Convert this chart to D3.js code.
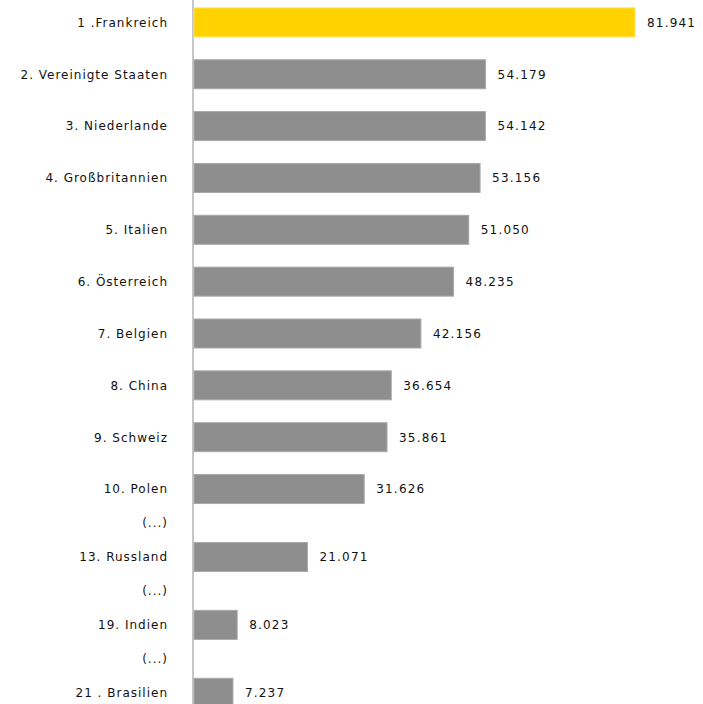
<!DOCTYPE html>
<html>
<head>
<meta charset="utf-8">
<script src="https://cdn.jsdelivr.net/npm/d3@7"></script>
<style>
  body { margin: 0; background: #fff; }
  text { font-family: "DejaVu Sans", Verdana, sans-serif; fill: #111; }
</style>
</head>
<body>
<script>
// Data (null = "(...)" placeholder row)
const labels = ["1 .Frankreich", "2. Vereinigte Staaten", "3. Niederlande", "4. Großbritannien",
  "5. Italien", "6. Österreich", "7. Belgien", "8. China", "9. Schweiz", "10. Polen", "(...)",
  "13. Russland", "(...)", "19. Indien", "(...)", "21 . Brasilien"]
const values = [81941, 54179, 54142, 53156, 51050, 48235, 42156, 36654, 35861, 31626, null,
  21071, null, 8023, null, 7237]
const highlight = 0

const width = 703
const height = 704
const axisX = 194
const labelRight = 168
const gapRatio = 0.655 // distance regular -> "(...)" row, in regular steps

const de = d3.formatLocale({ decimal: ",", thousands: ".", grouping: [3] })
const fmt = de.format(",")

const rows = labels.map((l, i) => ({ label: l, value: values[i], i }))

// cumulative row positions (placeholder rows are tighter)
let pos = 0
rows.forEach((d, i) => {
  if (i > 0) pos += (d.value == null || rows[i - 1].value == null) ? gapRatio : 1
  d.pos = pos
})

const yScale = d3.scaleLinear()
  .domain([0, d3.max(rows, d => d.pos)])
  .range([22.4, 692.8])

const xScale = d3.scaleLinear()
  .domain([0, 81941])
  .range([axisX, 635])

const barH = 29

const svg = d3.select("body")
  .append("svg")
  .attr("width", width)
  .attr("height", height)

// vertical axis line
svg.append("line")
  .attr("x1", axisX - 1).attr("x2", axisX - 1)
  .attr("y1", 0).attr("y2", height)
  .attr("stroke", "#c6c6c6")
  .attr("stroke-width", 2)

const bars = rows.filter(d => d.value != null)

svg.selectAll(".bar")
  .data(bars)
  .enter()
  .append("rect")
  .attr("class", "bar")
  .attr("x", xScale(0))
  .attr("y", d => yScale(d.pos) - barH / 2)
  .attr("width", d => xScale(d.value) - xScale(0))
  .attr("height", barH)
  .attr("fill", d => d.i === highlight ? "#ffd200" : "#8e8e8e")
  .attr("stroke", d => d.i === highlight ? "#ffe15a" : "#a9a9a9")
  .attr("stroke-width", 1)

// value labels
svg.selectAll(".val")
  .data(bars)
  .enter()
  .append("text")
  .attr("class", "val")
  .attr("x", d => xScale(d.value) + 12)
  .attr("y", d => yScale(d.pos))
  .attr("dy", "0.36em")
  .style("font-size", "12px")
  .style("letter-spacing", "1.2px")
  .text(d => fmt(d.value))

// category labels
svg.selectAll(".cat")
  .data(rows)
  .enter()
  .append("text")
  .attr("class", "cat")
  .attr("x", labelRight)
  .attr("y", d => yScale(d.pos))
  .attr("dy", "0.36em")
  .attr("text-anchor", "end")
  .style("font-size", "12px")
  .style("letter-spacing", "1px")
  .text(d => d.label)
</script>
</body>
</html>
